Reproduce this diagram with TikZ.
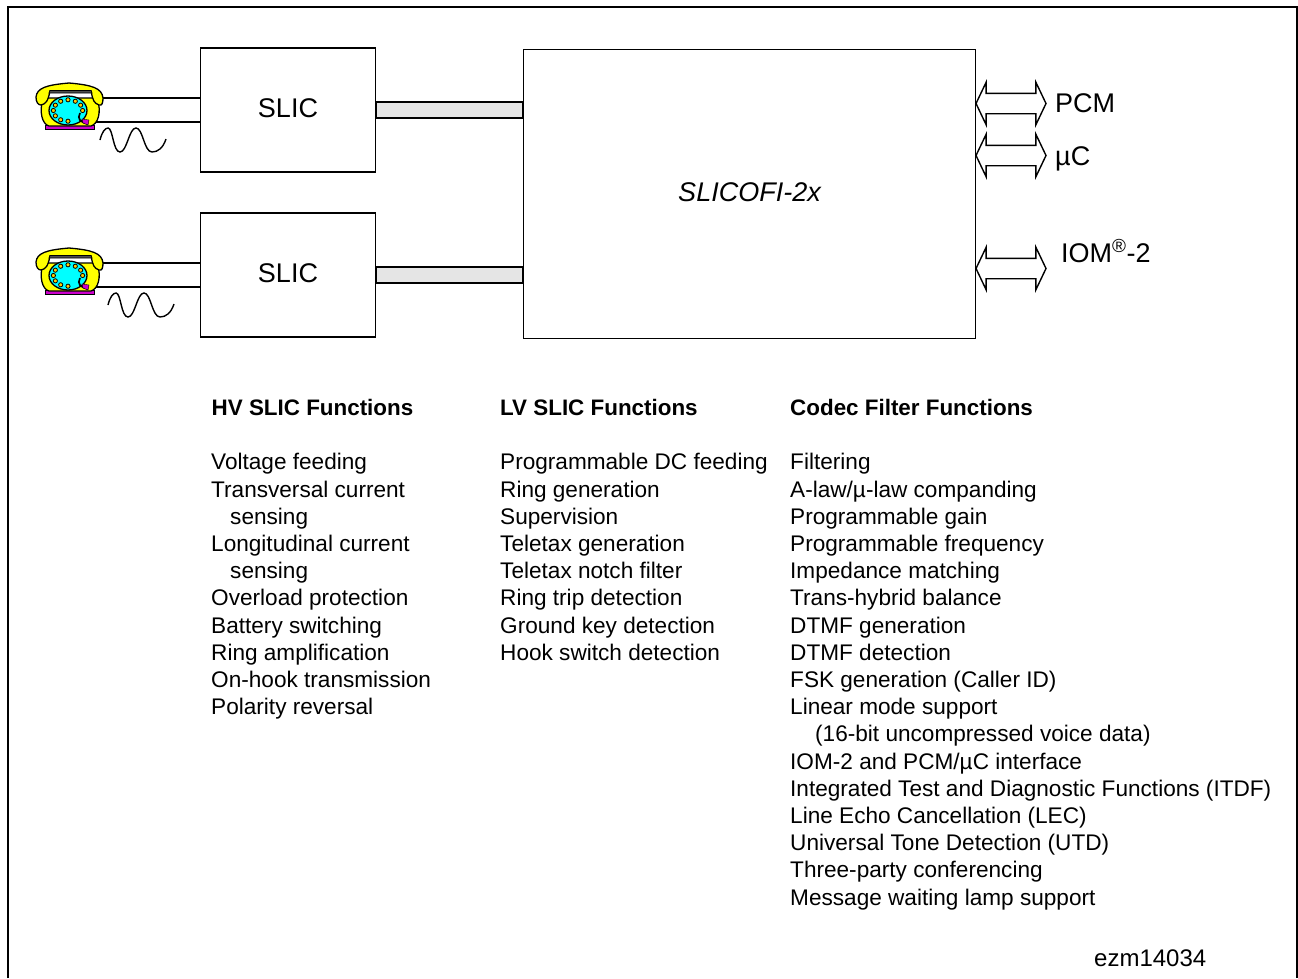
\documentclass[tikz,border=0pt]{standalone}
\usepackage{fontspec}
\setmainfont{Liberation Sans}
\usetikzlibrary{shapes.arrows}
\definecolor{phoneyellow}{RGB}{255,255,0}
\definecolor{phonecyan}{RGB}{0,255,255}
\definecolor{phonepurple}{RGB}{204,0,204}
\definecolor{phonehole}{RGB}{255,204,0}
\tikzset{
	block/.style={draw, line width=1.6pt, fill=white, inner sep=0pt, text depth=3pt, font=\fontsize{27}{32}\selectfont},
	link/.style={draw, line width=1.6pt, fill=black!10},
	wire/.style={line width=1.5pt},
	bus/.style={draw, line width=1.4pt, shape=double arrow, minimum height=70pt, text height=19pt, text depth=0pt, double arrow head extend=11pt, double arrow tip angle=129, inner sep=0pt},
	buslabel/.style={inner sep=0pt, anchor=base west, font=\fontsize{27}{32}\selectfont},
	heading/.style={inner sep=0pt, anchor=base west, font=\fontsize{22.4}{27}\selectfont\bfseries},
	column/.style={inner sep=0pt, anchor=north west, align=left, font=\fontsize{22.6}{27.2}\selectfont}
}
% telephone, #1 and #2 = top left of the handset
\def\phone(#1,#2){
	\begin{scope}[shift={(#1,#2)}]
		\draw[fill=phonepurple, line width=0.8pt] (9,41) rectangle (58,45.5);
		\draw[fill=phoneyellow, line width=1.3pt] (7,14) .. controls (3,28) and (6,40) .. (13,42) -- (55,42) .. controls (62,40) and (66,28) .. (61,14) -- cycle;
		\draw[fill=phoneyellow, line width=1.3pt] (0,13) .. controls (1,4) and (10,1) .. (33,-1) .. controls (56,1) and (66,4) .. (67,14) .. controls (67,19) and (66,22) .. (63,21) .. controls (58,19) and (57,17) .. (55,7) -- (14,7) .. controls (12,17) and (10,20) .. (5,21) .. controls (2,21) and (0,18) .. (0,13) -- cycle;
		\draw[fill=black!70, line width=0.8pt] (14,6.5) -- (55,6.5) -- (56,9) -- (13,9) -- cycle;
		\draw[fill=phonecyan, line width=1.3pt] (32,26.5) ellipse (19 and 14.5);
		\foreach \a in {0,30,...,270}
			\draw[fill=phonehole, line width=0.8pt] ({32+14.6*cos(\a)},{26.5-10.7*sin(\a)}) circle (2.1);
		\draw[line width=1.7pt] (44,29) .. controls (41,35) and (44,38) .. (52,40);
		\draw[fill=phonepurple, line width=0.4pt] (46,35) -- (53,36) -- (52,41) -- (47,39) -- cycle;
	\end{scope}
}
% sine wave, #1 and #2 = left end
\def\wave(#1,#2){
	\draw[line width=1.4pt, shift={(#1,#2)}] (0,0) .. controls (2,-8) and (5,-12) .. (8,-12) .. controls (13,-12) and (13,12) .. (20,12) .. controls (27,12) and (29,-12) .. (36,-12) .. controls (43,-12) and (44,12) .. (52,12) .. controls (58,12) and (63,8) .. (66,-1);
}
\begin{document}
\begin{tikzpicture}[x=1pt,y=-1pt]
	\useasboundingbox (0,0) rectangle (1298,978);
	%%%%% FRAME %%%%%
	\draw[line width=2.2pt] (8,978) -- (8,7) -- (1297,7) -- (1297,978);

	%%%%% BLOCKS %%%%%
	\node[block, minimum width=175pt, minimum height=124pt] (slicA) at (288,110) {SLIC};
	\node[block, minimum width=175pt, minimum height=124pt] (slicB) at (288,275) {SLIC};
	\node[block, minimum width=452pt, minimum height=289pt, font=\fontsize{27}{32}\selectfont\itshape] (codec) at (749.5,194) {SLICOFI-2x};

	%%%%% LINKS %%%%%
	\draw[link] (slicA.east |- 0,102) rectangle (codec.west |- 0,118);
	\draw[link] (slicB.east |- 0,267) rectangle (codec.west |- 0,283);

	%%%%% PHONES %%%%%
	\coordinate (wireAa) at (100,98);
	\coordinate (wireAb) at (96,122);
	\coordinate (wireBa) at (100,263);
	\coordinate (wireBb) at (96,287);
	\draw[wire] (wireAa) -- (wireAa -| slicA.west);
	\draw[wire] (wireAb) -- (wireAb -| slicA.west);
	\draw[wire] (wireBa) -- (wireBa -| slicB.west);
	\draw[wire] (wireBb) -- (wireBb -| slicB.west);
	\phone(36,84);
	\phone(36,249);
	\wave(100,140);
	\wave(108,305);

	%%%%% BUSES %%%%%
	\node[bus] (pcm) at (1011,103.5) {};
	\node[bus] (uc) at (1011,155.5) {};
	\node[bus] (iom) at (1011,268.5) {};
	\node[buslabel] (pcmlabel) at (1055,112) {PCM};
	\node[buslabel] (uclabel) at (1055,165) {µC};
	\node[buslabel] (iomlabel) at (1061,262) {IOM\textsuperscript{®}-2};

	%%%%% FUNCTIONS %%%%%
	\node[heading] (hvhead) at (211.5,415) {HV SLIC Functions};
	\node[heading] (lvhead) at (500,415) {LV SLIC Functions};
	\node[heading] (cfhead) at (790,415) {Codec Filter Functions};
	\node[column] (hvlist) at (211,453.4) {Voltage feeding\\Transversal current\\\hspace*{19pt}sensing\\Longitudinal current\\\hspace*{19pt}sensing\\Overload protection\\Battery switching\\Ring amplification\\On-hook transmission\\Polarity reversal};
	\node[column] (lvlist) at (500,453.4) {Programmable DC feeding\\Ring generation\\Supervision\\Teletax generation\\Teletax notch filter\\Ring trip detection\\Ground key detection\\Hook switch detection};
	\node[column] (cflist) at (790,453.4) {Filtering\\A-law/µ-law companding\\Programmable gain\\Programmable frequency\\Impedance matching\\Trans-hybrid balance\\DTMF generation\\DTMF detection\\FSK generation (Caller ID)\\Linear mode support\\\hspace*{25pt}(16-bit uncompressed voice data)\\IOM-2 and PCM/µC interface\\Integrated Test and Diagnostic Functions (ITDF)\\Line Echo Cancellation (LEC)\\Universal Tone Detection (UTD)\\Three-party conferencing\\Message waiting lamp support};
	\node[buslabel, font=\fontsize{24}{29}\selectfont] (docid) at (1094,966) {ezm14034};
\end{tikzpicture}
\end{document}
